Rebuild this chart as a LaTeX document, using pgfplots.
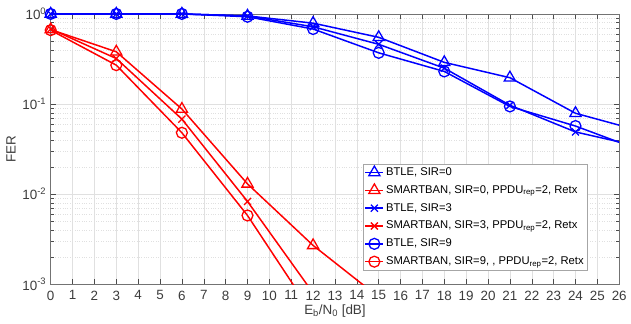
\documentclass[border=0pt]{standalone}
\usepackage{fontspec}
\setmainfont{Liberation Sans}
\usepackage{pgfplots}
\pgfplotsset{compat=1.18}
\usetikzlibrary{calc}
\definecolor{mblue}{RGB}{0,0,255}
\definecolor{mred}{RGB}{255,0,0}
\definecolor{axgray}{RGB}{60,60,60}
\begin{document}
\fontsize{13}{15}\selectfont
\begin{tikzpicture}
\begin{semilogyaxis}[
  scale only axis, width=572pt, height=272pt,
  xmin=0, xmax=26, ymin=1e-3, ymax=1,
  xtick={0,1,...,26},
  xticklabels={0,1,2,3,4,5,6,7,8,9,10,11,12,13,14,15,16,17,18,19,20,21,22,23,24,25,26},
  ytick={1e-3,1e-2,1e-1,1},
  yticklabels={10\textsuperscript{-3},10\textsuperscript{-2},10\textsuperscript{-1},10\textsuperscript{0}},
  /pgf/number format/assume math mode=true,
  grid=both,
  major grid style={black!12, line width=0.5pt},
  minor grid style={black!12, dotted, line width=0.5pt},
  tick align=inside,
  major tick length=5pt, minor tick length=3pt,
  axis line style={black!55},
  every tick/.style={black!70},
  tick label style={text=axgray, font=\fontsize{13.5}{15}\selectfont},
  xticklabel style={yshift=-2pt},
  xlabel={E\textsubscript{b}/N\textsubscript{0} [dB]},
  ylabel={FER},
  label style={text=axgray, font=\fontsize{13.5}{15}\selectfont},
  xlabel style={yshift=4pt},
  ylabel style={yshift=-2pt},
  legend cell align=left,
  legend style={at={(0.944,0.445)}, anchor=north east, draw=black!35, fill=white,
    font=\fontsize{11.3}{12.5}\selectfont, inner sep=1.5pt, row sep=4.1pt},
  legend image code/.code={\draw[#1, mark repeat=2, mark phase=2] plot coordinates {(0pt,0pt) (9pt,0pt) (18pt,0pt)};},
  every axis plot/.append style={line width=1.5pt, mark options={solid, line width=1.3pt, fill=none}},
]
\addplot[mblue, mark=triangle, mark size=6.5pt] coordinates {(0,1)(3,1)(6,1)(9,0.95)(12,0.79)(15,0.55)(18,0.29)(21,0.196)(24,0.079)(27,0.050)};
\addlegendentry{BTLE, SIR=0}
\addplot[mred, mark=triangle, mark size=6.5pt] coordinates {(0,0.67)(3,0.38)(6,0.088)(9,0.013)(12,0.0027)(15,0.00072)};
\addlegendentry{SMARTBAN, SIR=0, PPDU\textsubscript{rep}=2, Retx}
\addplot[mblue, mark=x, mark size=5pt] coordinates {(0,1)(3,1)(6,1)(9,0.95)(12,0.72)(15,0.46)(18,0.25)(21,0.097)(24,0.049)(27,0.0335)};
\addlegendentry{BTLE, SIR=3}
\addplot[mred, mark=x, mark size=5pt] coordinates {(0,0.68)(3,0.32)(6,0.068)(9,0.0083)(12,0.0008)};
\addlegendentry{SMARTBAN, SIR=3, PPDU\textsubscript{rep}=2, Retx}
\addplot[mblue, mark=o, mark size=5.5pt] coordinates {(0,1)(3,1)(6,1)(9,0.93)(12,0.68)(15,0.37)(18,0.23)(21,0.094)(24,0.057)(27,0.0305)};
\addlegendentry{BTLE, SIR=9}
\addplot[mred, mark=o, mark size=5.5pt] coordinates {(0,0.66)(3,0.27)(6,0.048)(9,0.0058)(12,0.00046)};
\addlegendentry{SMARTBAN, SIR=9, , PPDU\textsubscript{rep}=2, Retx}
\end{semilogyaxis}
\path[use as bounding box] ($(current axis.south west)+(-51pt,-39pt)$) rectangle ($(current axis.north east)+(8pt,14pt)$);
\end{tikzpicture}
\end{document}
